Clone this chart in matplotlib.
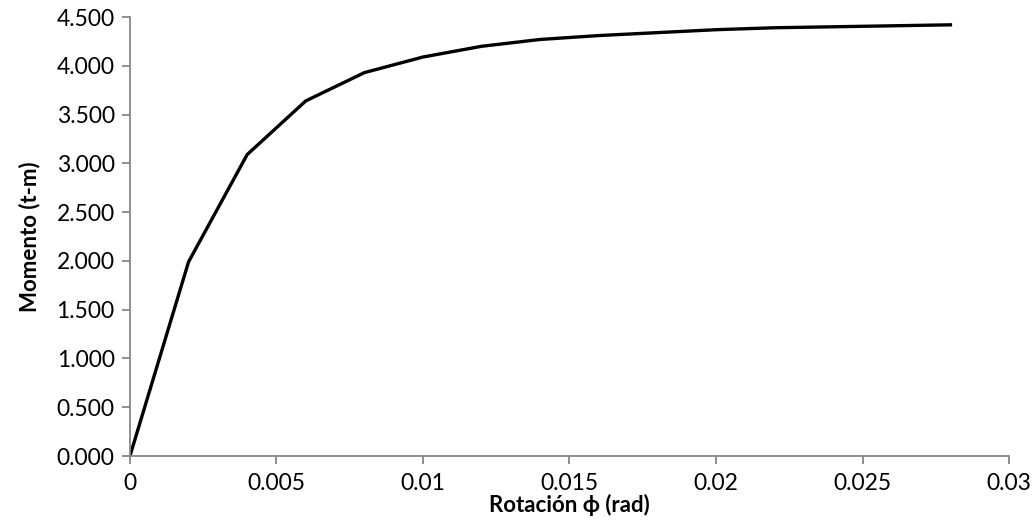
import matplotlib
matplotlib.use("Agg")
import matplotlib.pyplot as plt
from matplotlib.ticker import FuncFormatter

# datos momento-rotacion
rotacion = [0, 0.002, 0.004, 0.006, 0.008, 0.010, 0.012, 0.014,
            0.016, 0.018, 0.020, 0.022, 0.024, 0.026, 0.028]
momento = [0.0, 1.99, 3.09, 3.64, 3.93, 4.09, 4.20, 4.27,
           4.31, 4.34, 4.37, 4.39, 4.40, 4.41, 4.42]
xticks = [0, 0.005, 0.01, 0.015, 0.02, 0.025, 0.03]
xtick_labels = ["0", "0.005", "0.01", "0.015", "0.02", "0.025", "0.03"]

plt.rcParams['font.family'] = ['Lato', 'DejaVu Sans']

fig = plt.figure(figsize=(10.33, 5.27), dpi=100)
ax = fig.add_axes([0.1258, 0.1347, 0.851, 0.833])

ax.plot(rotacion, momento, color='k', linewidth=2.4)

ax.set_xlim(0, 0.03)
ax.set_ylim(0, 4.5)
ax.set_xticks(xticks)
ax.set_xticklabels(xtick_labels)
ax.set_yticks([i * 0.5 for i in range(10)])
ax.yaxis.set_major_formatter(FuncFormatter(lambda v, p: "%.3f" % v))

for s in ['top', 'right']:
    ax.spines[s].set_visible(False)
for s in ['left', 'bottom']:
    ax.spines[s].set_color('#868686')
    ax.spines[s].set_linewidth(1.3)
ax.tick_params(colors='#868686', width=1.3, length=6, labelsize=16.5,
               labelcolor='black', direction='out')
ax.tick_params(axis='x', pad=6)
ax.tick_params(axis='y', pad=5)

ax.set_xlabel('Rotación ϕ (rad)', fontsize=16, fontweight='bold', labelpad=0)
ax.set_ylabel('Momento (t-m)', fontsize=16, fontweight='bold', labelpad=12)

fig.savefig("out.png", dpi=100)
